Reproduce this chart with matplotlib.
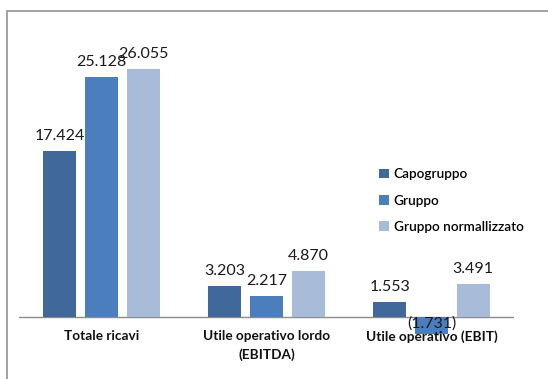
import numpy as np
import matplotlib
matplotlib.use("Agg")
import matplotlib.pyplot as plt
from matplotlib.patches import Rectangle

plt.rcParams["font.family"] = ["Lato", "DejaVu Sans"]

categories = ["Totale ricavi", "Utile operativo lordo\n(EBITDA)", "Utile operativo (EBIT)"]
series = ["Capogruppo", "Gruppo", "Gruppo normallizzato"]
capogruppo = [17.424, 3.203, 1.553]
gruppo = [25.128, 2.217, -1.731]
gruppo_norm = [26.055, 4.870, 3.491]
labels = [["17.424", "3.203", "1.553"],
          ["25.128", "2.217", "(1.731)"],
          ["26.055", "4.870", "3.491"]]
colors = ["#41689b", "#4a7ebd", "#a8bbd9"]

W, H = 548, 379
fig = plt.figure(figsize=(W / 100, H / 100), dpi=100)
fig.patches.append(Rectangle((7 / W, -0.01), 1.0, 1 - 11 / H + 0.01, transform=fig.transFigure,
                             fill=False, edgecolor="#9a9a9a", lw=1.3))

# axes: x data -0.5..2.5 -> px 19..514 ; y 30 at px 31, 0 at px 317
y_lo, y_hi = -5.0, 30.0
ppu = (317 - 31) / y_hi
bot_px = 317 + (-y_lo) * ppu
ax = fig.add_axes([19 / W, 1 - bot_px / H, (514 - 19) / W, (bot_px - 31) / H])
ax.set_xlim(-0.5, 2.5); ax.set_ylim(y_lo, y_hi)
ax.axis("off")

x = np.arange(len(categories))
bw = 0.2; step = 0.252
for i, (vals, c) in enumerate(zip([capogruppo, gruppo, gruppo_norm], colors)):
    xs = x + (i - 1) * step
    ax.bar(xs, vals, width=bw, color=c, label=series[i], zorder=2)
    for xi, v, t in zip(xs, vals, labels[i]):
        if v >= 0:
            ax.annotate(t, (xi, v), xytext=(0, 10.8), textcoords="offset points",
                        ha="center", va="center", fontsize=11.5, color="#1a1a1a")
        else:
            ax.text(xi, -0.65, t, ha="center", va="center", fontsize=11.5, color="#1a1a1a", zorder=3)

ax.axhline(0, color="#8c8c8c", lw=1.0, zorder=1)
for xi, cat in zip(x, categories):
    ax.annotate(cat, (xi, 0), xytext=(0, -9.5), textcoords="offset points",
                ha="center", va="top", fontsize=9.8, color="#111111",
                fontweight="bold", linespacing=1.55, zorder=3)

ax.legend(loc="upper left", bbox_to_anchor=((367 - 19) / (514 - 19), 1 - (156 - 31) / (bot_px - 31)),
          frameon=False, handlelength=0.75, handleheight=0.75,
          handletextpad=0.3, labelspacing=1.05, prop={"weight": "semibold", "size": 9.8})

fig.savefig("out.png", dpi=100)
